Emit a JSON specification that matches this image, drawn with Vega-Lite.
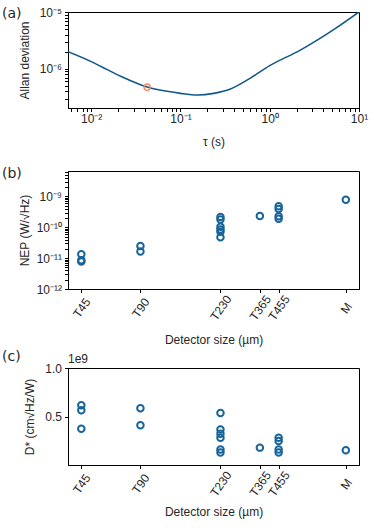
{
  "$schema": "https://vega.github.io/schema/vega-lite/v6.json",
  "padding": {"left": 1, "top": 5, "right": 8, "bottom": 2},
  "spacing": 3,
  "config": {
    "font": "Liberation Sans",
    "view": {"stroke": "black", "strokeWidth": 1},
    "axis": {"domainColor": "black", "tickColor": "black", "labelColor": "#262626", "titleColor": "#262626", "labelFontSize": 12, "titleFontSize": 12, "titleFontWeight": "normal", "grid": false, "labelFont": "Liberation Sans", "titleFont": "Liberation Sans", "tickWidth": 1, "domainWidth": 1},
    "title": {"font": "DejaVu Sans", "fontSize": 14, "fontWeight": "normal", "color": "#262626", "anchor": "start", "frame": "group", "baseline": "bottom", "offset": 0}
  },
  "datasets": {
    "allan": [
      {"tau": 0.0055, "adev": 2.0e-6},
      {"tau": 0.01, "adev": 1.34e-6},
      {"tau": 0.0129, "adev": 1.1e-6},
      {"tau": 0.0217, "adev": 7.35e-7},
      {"tau": 0.0424, "adev": 4.79e-7},
      {"tau": 0.071, "adev": 4.03e-7},
      {"tau": 0.1, "adev": 3.71e-7},
      {"tau": 0.155, "adev": 3.47e-7},
      {"tau": 0.236, "adev": 3.71e-7},
      {"tau": 0.363, "adev": 4.42e-7},
      {"tau": 0.608, "adev": 6.88e-7},
      {"tau": 1.0, "adev": 1.14e-6},
      {"tau": 2.2, "adev": 2.14e-6},
      {"tau": 5.2, "adev": 4.9e-6},
      {"tau": 10, "adev": 1.0e-5}
    ],
    "minpt": [{"tau": 0.0424, "adev": 4.75e-7}],
    "det": [
      {"det": "T45", "size": 45, "nep": 7.8e-12, "dstar": 0.618},
      {"det": "T45", "size": 45, "nep": 8.5e-12, "dstar": 0.567},
      {"det": "T45", "size": 45, "nep": 1.33e-11, "dstar": 0.378},
      {"det": "T90", "size": 90, "nep": 1.63e-11, "dstar": 0.588},
      {"det": "T90", "size": 90, "nep": 2.47e-11, "dstar": 0.414},
      {"det": "T230", "size": 230, "nep": 4.8e-11, "dstar": 0.54},
      {"det": "T230", "size": 230, "nep": 7.2e-11, "dstar": 0.37},
      {"det": "T230", "size": 230, "nep": 8.5e-11, "dstar": 0.327},
      {"det": "T230", "size": 230, "nep": 1.04e-10, "dstar": 0.286},
      {"det": "T230", "size": 230, "nep": 1.78e-10, "dstar": 0.166},
      {"det": "T230", "size": 230, "nep": 2.18e-10, "dstar": 0.133},
      {"det": "T365", "size": 365, "nep": 2.34e-10, "dstar": 0.184},
      {"det": "T455", "size": 455, "nep": 1.88e-10, "dstar": 0.286},
      {"det": "T455", "size": 455, "nep": 2.28e-10, "dstar": 0.251},
      {"det": "T455", "size": 455, "nep": 3.9e-10, "dstar": 0.166},
      {"det": "T455", "size": 455, "nep": 4.8e-10, "dstar": 0.133},
      {"det": "M", "size": 1000, "nep": 7.8e-10, "dstar": 0.156}
    ],
    "offset": [{"label": "1e9"}]
  },
  "vconcat": [
    {
      "width": 291, "height": 96,
      "title": {"text": "(a)", "dx": -66, "dy": 19},
      "layer": [
        {
          "data": {"name": "allan"},
          "mark": {"type": "line", "color": "#11598a", "strokeWidth": 1.6, "interpolate": "monotone", "clip": true},
          "encoding": {
            "x": {"field": "tau", "type": "quantitative",
              "scale": {"type": "log", "domain": [0.0055, 10], "nice": false},
              "axis": {"title": ["τ (s)", " "], "values": [0.006,0.007,0.008,0.009,0.01,0.02,0.03,0.04,0.05,0.06,0.07,0.08,0.09,0.1,0.2,0.3,0.4,0.5,0.6,0.7,0.8,0.9,1,2,3,4,5,6,7,8,9,10],
                "labelExpr": "datum.value == 0.01 ? '10⁻²' : datum.value == 0.1 ? '10⁻¹' : datum.value == 1 ? '10⁰' : datum.value == 10 ? '10¹' : ''",
                "tickSize": 3.5,
                "labelFlush": false, "labelOverlap": false, "labelPadding": 2, "titlePadding": 12}},
            "y": {"field": "adev", "type": "quantitative",
              "scale": {"type": "log", "domain": [2.05e-7, 1e-5], "nice": false},
              "axis": {"title": "Allan deviation", "values": [3e-7,4e-7,5e-7,6e-7,7e-7,8e-7,9e-7,1e-6,2e-6,3e-6,4e-6,5e-6,6e-6,7e-6,8e-6,9e-6,1e-5],
                "labelExpr": "abs(datum.value - 1e-5) < 1e-9 ? '10⁻⁵' : abs(datum.value - 1e-6) < 1e-10 ? '10⁻⁶' : ''",
                "tickSize": 3.5,
                "labelFlush": false, "labelOverlap": false, "labelPadding": 3, "titlePadding": 8}}
          }
        },
        {
          "data": {"name": "minpt"},
          "mark": {"type": "point", "shape": "circle", "filled": false, "color": "#f4845f", "opacity": 1, "size": 40, "strokeWidth": 1.5},
          "encoding": {
            "x": {"field": "tau", "type": "quantitative"},
            "y": {"field": "adev", "type": "quantitative"}
          }
        }
      ]
    },
    {
      "width": 291, "height": 118,
      "title": {"text": "(b)", "dx": -66, "dy": 19},
      "data": {"name": "det"},
      "mark": {"type": "point", "shape": "circle", "filled": false, "color": "#17649a", "opacity": 1, "size": 42, "strokeWidth": 2},
      "encoding": {
        "x": {"field": "size", "type": "quantitative",
          "scale": {"type": "log", "domain": [38.5, 1167], "nice": false},
          "axis": {"title": "Detector size (µm)", "values": [45, 90, 230, 365, 455, 1000],
            "labelExpr": "datum.value == 45 ? 'T45' : datum.value == 90 ? 'T90' : datum.value == 230 ? 'T230' : datum.value == 365 ? 'T365' : datum.value == 455 ? 'T455' : 'M'",
            "labelAngle": -55, "labelAlign": "center", "labelBaseline": "middle", "labelPadding": 15, "tickSize": 3.5, "labelFlush": false, "labelOverlap": false, "titlePadding": 12}},
        "y": {"field": "nep", "type": "quantitative",
          "scale": {"type": "log", "domain": [1e-12, 6.7e-9], "nice": false},
          "axis": {"title": "NEP (W/√Hz)",
            "values": [1e-12,2e-12,3e-12,4e-12,5e-12,6e-12,7e-12,8e-12,9e-12,1e-11,2e-11,3e-11,4e-11,5e-11,6e-11,7e-11,8e-11,9e-11,1e-10,2e-10,3e-10,4e-10,5e-10,6e-10,7e-10,8e-10,9e-10,1e-9,2e-9,3e-9,4e-9,5e-9,6e-9],
            "labelExpr": "abs(log(datum.value)/LN10 - round(log(datum.value)/LN10)) < 0.001 ? (round(log(datum.value)/LN10) == -12 ? '10⁻¹²' : round(log(datum.value)/LN10) == -11 ? '10⁻¹¹' : round(log(datum.value)/LN10) == -10 ? '10⁻¹⁰' : '10⁻⁹') : ''",
            "tickSize": 3.5,
            "labelFlush": false, "labelOverlap": false, "labelPadding": 3, "titlePadding": 5}}
      }
    },
    {
      "width": 291, "height": 97,
      "title": {"text": "(c)", "dx": -66, "dy": 15},
      "layer": [
        {
          "data": {"name": "det"},
          "mark": {"type": "point", "shape": "circle", "filled": false, "color": "#17649a", "opacity": 1, "size": 42, "strokeWidth": 2},
          "encoding": {
            "x": {"field": "size", "type": "quantitative",
              "scale": {"type": "log", "domain": [38.5, 1167], "nice": false},
              "axis": {"title": "Detector size (µm)", "values": [45, 90, 230, 365, 455, 1000],
                "labelExpr": "datum.value == 45 ? 'T45' : datum.value == 90 ? 'T90' : datum.value == 230 ? 'T230' : datum.value == 365 ? 'T365' : datum.value == 455 ? 'T455' : 'M'",
                "labelAngle": -55, "labelAlign": "center", "labelBaseline": "middle", "labelPadding": 15, "tickSize": 3.5, "labelFlush": false, "labelOverlap": false, "titlePadding": 8}},
            "y": {"field": "dstar", "type": "quantitative",
              "scale": {"domain": [0.006, 1.0], "nice": false, "zero": false},
              "axis": {"title": "D* (cm√Hz/W)", "values": [0.5, 1.0], "format": ".1f", "tickSize": 3.5, "labelFlush": false, "labelPadding": 3, "titlePadding": 8}}
          }
        },
        {
          "data": {"name": "offset"},
          "mark": {"type": "text", "align": "left", "baseline": "bottom", "dy": -2, "fontSize": 12, "color": "#262626", "font": "Liberation Sans", "clip": false},
          "encoding": {
            "x": {"datum": 38.5},
            "y": {"datum": 1.0},
            "text": {"field": "label"}
          }
        }
      ]
    }
  ]
}
